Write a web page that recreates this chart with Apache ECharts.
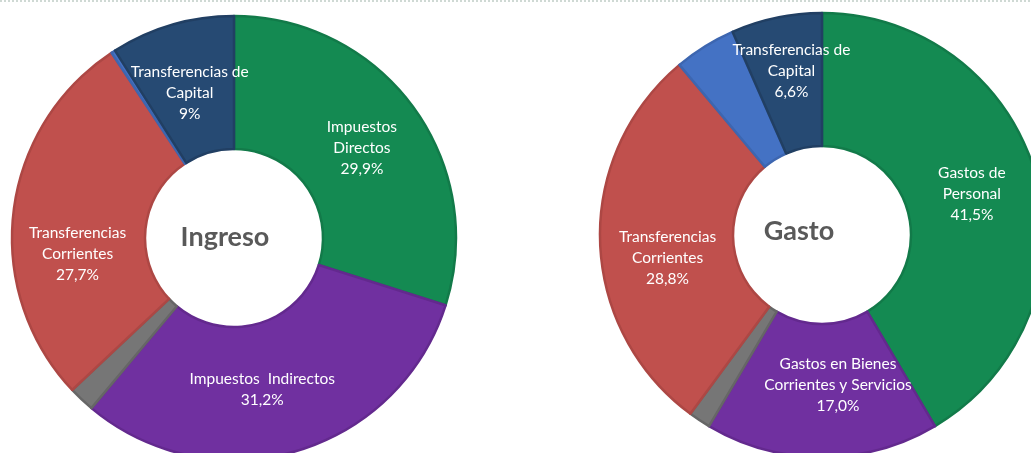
<!DOCTYPE html>
<html>
<head>
<meta charset="utf-8">
<script src="https://cdn.jsdelivr.net/npm/echarts@6/dist/echarts.min.js"></script>
<style>
    html, body { margin: 0; padding: 0; background: #fff; }
    #chart { width: 1031px; height: 453px; }
</style>
</head>
<body>
<div id="chart"></div>
<script>
// datos de ingreso
var ingresoNames = ['Impuestos\nDirectos', 'Impuestos  Indirectos', 'Otros', 'Transferencias\nCorrientes', 'Activos', 'Transferencias de\nCapital'];
var ingresoValues = [29.9, 31.2, 1.9, 27.7, 0.3, 9.0];
var ingresoLabels = ['29,9%', '31,2%', '', '27,7%', '', '9%'];

// datos de gasto
var gastoNames = ['Gastos de\nPersonal', 'Gastos en Bienes\nCorrientes y Servicios', 'Otros', 'Transferencias\nCorrientes', 'Inversiones', 'Transferencias de\nCapital'];
var gastoValues = [41.5, 17.0, 1.6, 28.8, 4.5, 6.6];
var gastoLabels = ['41,5%', '17,0%', '', '28,8%', '', '6,6%'];

var colors = ['#148a52', '#7030a0', '#767676', '#c0504d', '#4472c4', '#264a73'];
var borders = ['#127a49', '#63298e', '#666666', '#ad4744', '#3d66b0', '#213f63'];

// ajustes de posicion de etiquetas (como en Excel)
var ingresoOffsets = [[0, 4], [-16, -1], [0, 0], [1, 34], [0, 0], [0, 7]];
var gastoOffsets = [[-3, 1], [16, -9], [0, 0], [4, 18], [0, 0], [2, -9]];

function buildData(names, values, labels, offsets) {
    return values.map(function (v, i) {
        return {
            name: names[i],
            value: v,
            pctLabel: labels[i],
            itemStyle: { color: colors[i], borderColor: borders[i], borderWidth: 2.5 },
            label: { show: labels[i] !== '', offset: offsets[i] }
        };
    });
}

function pieSeries(center, data) {
    return {
        type: 'pie',
        center: center,
        radius: [89, 222],
        startAngle: 90,
        clockwise: true,
        silent: true,
        animation: false,
        data: data,
        label: {
            position: 'inside',
            color: '#ffffff',
            fontFamily: 'Lato',
            fontSize: 15.5,
            lineHeight: 21,
            align: 'center',
            formatter: function (p) {
                return p.name + '\n' + p.data.pctLabel;
            }
        },
        labelLine: { show: false }
    };
}

var chart = echarts.init(document.getElementById('chart'));
chart.setOption({
    backgroundColor: '#ffffff',
    graphic: [{
        type: 'line',
        shape: { x1: 0, y1: 1, x2: 1031, y2: 1 },
        style: { stroke: '#9fb3aa', lineWidth: 1, lineDash: [2, 2] }
    }, {
        type: 'text', x: 225, y: 237, z: 10,
        style: { text: 'Ingreso', align: 'center', verticalAlign: 'middle',
                 fontFamily: 'Lato', fontSize: 27, fontWeight: 'bold', fill: '#595959' }
    }, {
        type: 'text', x: 799, y: 231, z: 10,
        style: { text: 'Gasto', align: 'center', verticalAlign: 'middle',
                 fontFamily: 'Lato', fontSize: 27, fontWeight: 'bold', fill: '#595959' }
    }],
    series: [
        pieSeries([234, 238], buildData(ingresoNames, ingresoValues, ingresoLabels, ingresoOffsets)),
        pieSeries([822, 235], buildData(gastoNames, gastoValues, gastoLabels, gastoOffsets))
    ]
});
</script>
</body>
</html>
